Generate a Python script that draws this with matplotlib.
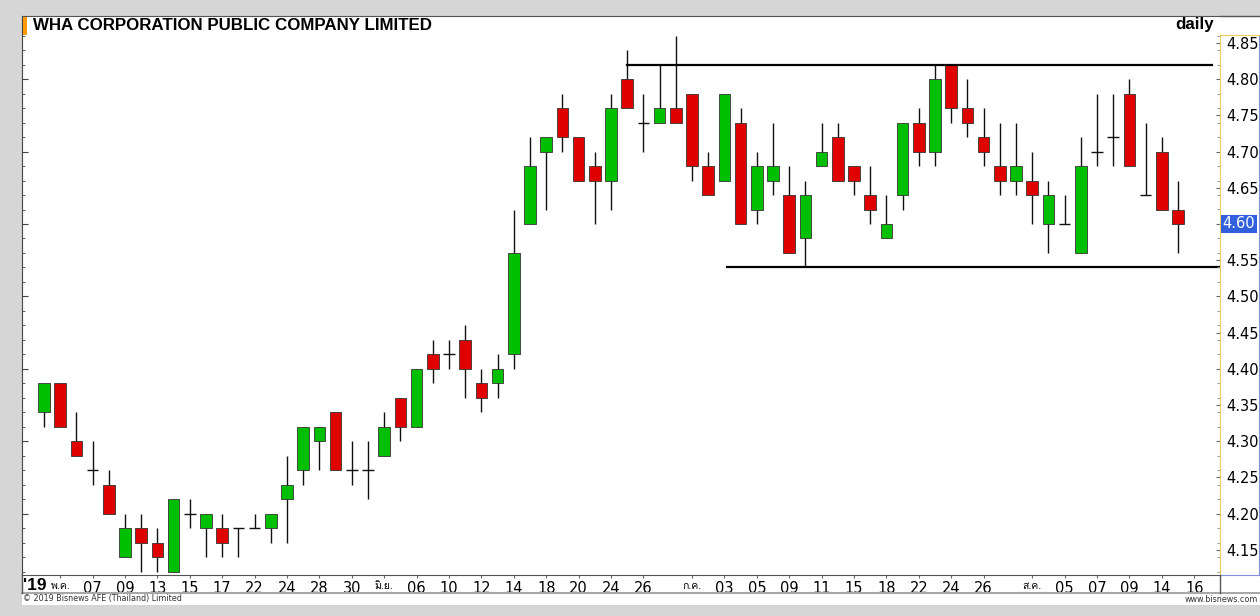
import matplotlib
matplotlib.use("Agg")
import matplotlib.pyplot as plt
from matplotlib import font_manager, ft2font
from matplotlib.patches import Rectangle
from matplotlib.lines import Line2D
from matplotlib.ticker import MultipleLocator
import matplotlib.transforms as mtransforms

# daily OHLC, WHA, May - Aug 2019
opens = [4.34, 4.38, 4.30, 4.26, 4.24, 4.14, 4.18, 4.16, 4.12, 4.20,
         4.18, 4.18, 4.18, 4.18, 4.18, 4.22, 4.26, 4.30, 4.34, 4.26,
         4.26, 4.28, 4.36, 4.32, 4.42, 4.42, 4.44, 4.38, 4.38, 4.42,
         4.60, 4.70, 4.76, 4.72, 4.68, 4.66, 4.80, 4.74, 4.74, 4.76,
         4.78, 4.68, 4.66, 4.74, 4.62, 4.66, 4.64, 4.58, 4.68, 4.72,
         4.68, 4.64, 4.58, 4.64, 4.74, 4.70, 4.82, 4.76, 4.72, 4.68,
         4.66, 4.66, 4.60, 4.60, 4.56, 4.70, 4.72, 4.78, 4.64, 4.70,
         4.62]
highs = [4.38, 4.38, 4.34, 4.30, 4.26, 4.20, 4.20, 4.18, 4.22, 4.22,
         4.20, 4.20, 4.18, 4.20, 4.20, 4.28, 4.32, 4.32, 4.34, 4.30,
         4.30, 4.34, 4.36, 4.40, 4.44, 4.44, 4.46, 4.40, 4.42, 4.62,
         4.72, 4.72, 4.78, 4.72, 4.70, 4.78, 4.84, 4.78, 4.82, 4.86,
         4.78, 4.70, 4.78, 4.76, 4.70, 4.74, 4.68, 4.66, 4.74, 4.74,
         4.68, 4.68, 4.64, 4.74, 4.76, 4.82, 4.82, 4.80, 4.76, 4.74,
         4.74, 4.70, 4.66, 4.64, 4.72, 4.78, 4.78, 4.80, 4.74, 4.72,
         4.66]
lows = [4.32, 4.32, 4.28, 4.24, 4.20, 4.14, 4.12, 4.12, 4.12, 4.18,
        4.14, 4.14, 4.14, 4.18, 4.16, 4.16, 4.24, 4.26, 4.26, 4.24,
        4.22, 4.28, 4.30, 4.32, 4.38, 4.40, 4.36, 4.34, 4.36, 4.40,
        4.60, 4.62, 4.70, 4.66, 4.60, 4.62, 4.76, 4.70, 4.74, 4.74,
        4.66, 4.64, 4.66, 4.60, 4.60, 4.64, 4.56, 4.54, 4.68, 4.66,
        4.64, 4.60, 4.58, 4.62, 4.68, 4.68, 4.74, 4.72, 4.68, 4.64,
        4.64, 4.60, 4.56, 4.60, 4.56, 4.68, 4.68, 4.68, 4.64, 4.62,
        4.56]
closes = [4.38, 4.32, 4.28, 4.26, 4.20, 4.18, 4.16, 4.14, 4.22, 4.20,
          4.20, 4.16, 4.18, 4.18, 4.20, 4.24, 4.32, 4.32, 4.26, 4.26,
          4.26, 4.32, 4.32, 4.40, 4.40, 4.42, 4.40, 4.36, 4.40, 4.56,
          4.68, 4.72, 4.72, 4.66, 4.66, 4.76, 4.76, 4.74, 4.76, 4.74,
          4.68, 4.64, 4.78, 4.60, 4.68, 4.68, 4.56, 4.64, 4.70, 4.66,
          4.66, 4.62, 4.60, 4.74, 4.70, 4.80, 4.76, 4.74, 4.70, 4.66,
          4.68, 4.64, 4.64, 4.60, 4.68, 4.70, 4.72, 4.68, 4.64, 4.62,
          4.60]

tick_pos = [1, 3, 5, 7, 9, 11, 13, 15, 17, 19,
            21, 23, 25, 27, 29, 31, 33, 35, 37,
            40, 42, 44, 46, 48, 50, 52, 54, 56, 58,
            61, 63, 65, 67, 69, 71]
tick_lbl = ['พ.ค.', '07', '09', '13', '15', '17', '22', '24', '28', '30',
            'มิ.ย.', '06', '10', '12', '14', '18', '20', '24', '26',
            'ก.ค.', '03', '05', '09', '11', '15', '18', '22', '24', '26',
            'ส.ค.', '05', '07', '09', '14', '16']
price_ticks = [4.15, 4.20, 4.25, 4.30, 4.35, 4.40, 4.45, 4.50,
               4.55, 4.60, 4.65, 4.70, 4.75, 4.80, 4.85]

# trend lines drawn on the chart (start idx, end idx, level)
resistance = ([36, 72.1], [4.82, 4.82])
support = ([42.15, 72.9], [4.54, 4.54])

# find a font that has Thai glyphs
thai_font = None
for fe in font_manager.fontManager.ttflist:
    try:
        if 0x0E1E in ft2font.FT2Font(fe.fname).get_charmap():
            thai_font = fe.name
            break
    except Exception:
        pass
fams = ['DejaVu Sans'] + ([thai_font] if thai_font else [])
plt.rcParams['font.family'] = fams

W, H = 1260, 616
def fx(px):
    return px / W
def fy(py):
    return 1 - py / H

fig = plt.figure(figsize=(12.6, 6.16), dpi=100, facecolor='#d6d6d6')
fig.add_artist(Rectangle((fx(22), fy(605)), fx(1260) - fx(22), fy(16) - fy(605),
                         transform=fig.transFigure, facecolor='white',
                         edgecolor='none', zorder=-5))

ax = fig.add_axes([fx(22), fy(575), fx(1220) - fx(22), fy(16) - fy(575)])
ax.set_xlim(-1.358, 72.59)
ax.set_ylim(4.1152, 4.8873)

green, red = '#00bf00', '#e00000'
bw = 0.72
for i in range(len(opens)):
    o, h, l, c = opens[i], highs[i], lows[i], closes[i]
    ax.vlines(i, l, h, color='#111111', lw=1.0, zorder=2)
    if abs(c - o) < 1e-9:
        ax.hlines(o, i - bw / 2, i + bw / 2, color='#111111', lw=1.0, zorder=3)
    else:
        col = green if c > o else red
        ax.bar(i, abs(c - o), bottom=min(o, c), width=bw, color=col,
               edgecolor='#333333', linewidth=0.6, zorder=3)

ax.plot(resistance[0], resistance[1], color='black', lw=1.6, zorder=4)
ax.plot(support[0], support[1], color='black', lw=1.6, zorder=4, clip_on=False)

ax.spines['right'].set_visible(False)
ax.spines['left'].set_color('#444444')
ax.spines['top'].set_color('#555555')
ax.spines['bottom'].set_color('#555555')
ax.yaxis.set_major_locator(MultipleLocator(0.1))
ax.yaxis.set_minor_locator(MultipleLocator(0.02))
ax.tick_params(axis='y', which='major', direction='in', length=4, color='#444444', labelleft=False)
ax.tick_params(axis='y', which='minor', direction='in', length=2, color='#444444')
ax.set_xticks(tick_pos)
ax.set_xticklabels(tick_lbl)
ax.tick_params(axis='x', direction='out', length=2.5, color='#666666', pad=2, labelsize=10.5)
for lbl in ax.get_xticklabels():
    if '.' in lbl.get_text():
        lbl.set_fontsize(7.5)
        if thai_font:
            lbl.set_family([thai_font, 'DejaVu Sans'])

# price axis on the right
last = closes[-1]
ax2 = fig.add_axes([fx(1220), fy(575), fx(1259) - fx(1220), fy(35) - fy(575)])
ax2.set_ylim(4.1152, 4.8610)
ax2.set_xlim(0, 1)
ax2.set_xticks([])
ax2.spines['left'].set_color('#f2cf55')
ax2.spines['top'].set_color('#f2cf55')
ax2.spines['right'].set_color('#8090e0')
ax2.spines['bottom'].set_color('#8090e0')
ax2.set_yticks(price_ticks)
# the last-price tag covers its tick label
ax2.set_yticklabels(['' if abs(v - last) < 1e-9 else f'{v:.2f}' for v in price_ticks])
ax2.yaxis.set_minor_locator(MultipleLocator(0.02))
ax2.tick_params(axis='y', which='major', direction='out', length=3, color='#666666',
                pad=-7.3, labelsize=10.5)
ax2.tick_params(axis='y', which='minor', direction='out', length=2, color='#888888')
for lbl in ax2.get_yticklabels():
    lbl.set_ha('left')
tr = mtransforms.blended_transform_factory(ax2.transAxes, ax2.transData)
ax2.text(0.06, last, f'{last:.2f}', transform=tr, ha='left', va='center',
         fontsize=10.5, color='white', zorder=10,
         bbox=dict(boxstyle='square,pad=0.12', facecolor='#3060dd', edgecolor='none'))

# frame lines and labels
fig.add_artist(Line2D([fx(1220), fx(1260)], [fy(16), fy(16)], color='#555555', lw=1))
fig.add_artist(Line2D([fx(22), fx(1260)], [fy(593), fy(593)], color='#a8a8a8', lw=1.5))
fig.add_artist(Line2D([fx(1220), fx(1220)], [fy(575), fy(593)], color='#555555', lw=1))
fig.add_artist(Line2D([fx(22), fx(22)], [fy(575), fy(593)], color='#555555', lw=1))
fig.add_artist(Rectangle((fx(22.5), fy(35)), fx(4), fy(17) - fy(35),
                         transform=fig.transFigure, facecolor='#ff9900',
                         edgecolor='none', zorder=6))

fig.text(fx(33), fy(25), 'WHA CORPORATION PUBLIC COMPANY LIMITED', fontsize=12.2,
         fontweight='bold', family='Liberation Sans', va='center', ha='left')
fig.text(fx(1214), fy(25), 'daily', fontsize=12.2, fontweight='bold',
         family='Liberation Sans', va='center', ha='right')
fig.text(fx(23), fy(585), "'19", fontsize=12.5, fontweight='bold',
         family='Liberation Sans', va='center', ha='left')
fig.text(fx(23), fy(599), '© 2019 Bisnews AFE (Thailand) Limited', fontsize=5.8,
         color='#333333', va='center', ha='left')
fig.text(fx(1258), fy(599), 'www.bisnews.com', fontsize=5.8,
         color='#333333', va='center', ha='right')

fig.savefig('out.png', dpi=100, facecolor=fig.get_facecolor())
